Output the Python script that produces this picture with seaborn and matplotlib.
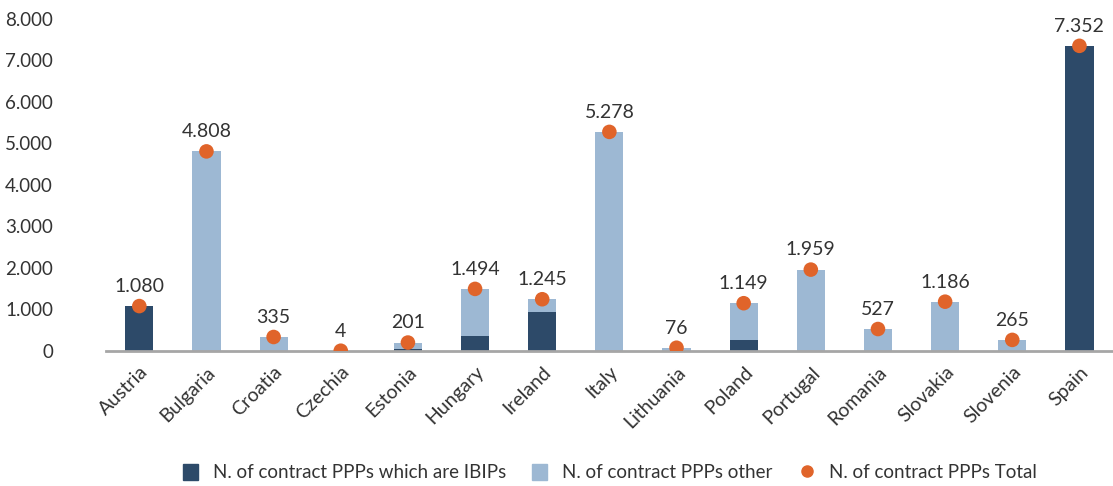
import matplotlib
matplotlib.use("Agg")
import matplotlib.pyplot as plt
import seaborn as sns
import pandas as pd
from matplotlib.patches import Patch
from matplotlib.lines import Line2D

countries = ["Austria", "Bulgaria", "Croatia", "Czechia", "Estonia", "Hungary", "Ireland",
             "Italy", "Lithuania", "Poland", "Portugal", "Romania", "Slovakia", "Slovenia", "Spain"]
ibips = [1080, 0, 0, 0, 40, 370, 930, 0, 0, 270, 0, 0, 0, 0, 7352]
totals = [1080, 4808, 335, 4, 201, 1494, 1245, 5278, 76, 1149, 1959, 527, 1186, 265, 7352]
other = [t - i for t, i in zip(totals, ibips)]

dark = "#2d4a69"
light = "#9db8d3"
orange = "#e0642a"

df = pd.DataFrame({"country": countries, "ibips": ibips, "other": other, "total": totals})

sns.set_style("white")
plt.rcParams["font.family"] = ["Lato", "DejaVu Sans"]

fig = plt.figure(figsize=(11.13, 4.86), dpi=100)
ax = fig.add_axes([0.095, 0.278, 0.905, 0.683])

# light bar = full total, dark bar drawn over it = IBIP part
sns.barplot(data=df, x="country", y="total", color=light, width=0.42, saturation=1,
            linewidth=0, ax=ax)
sns.barplot(data=df, x="country", y="ibips", color=dark, width=0.42, saturation=1,
            linewidth=0, ax=ax)
sns.scatterplot(data=df, x="country", y="total", color=orange, s=110, edgecolor="none",
                zorder=5, ax=ax)

for i, t in enumerate(totals):
    ax.annotate(f"{t:,}".replace(",", "."), (i, t), xytext=(0, 8), textcoords="offset points",
                ha="center", va="bottom", fontsize=14, color="#333333")

ax.set_ylim(0, 8000)
ax.set_xlim(-0.5, len(countries) - 0.5)
ax.set_yticks(range(0, 8001, 1000))
ax.set_yticklabels([f"{v:,}".replace(",", ".") for v in range(0, 8001, 1000)],
                   fontsize=13.5, color="#333333")
ax.tick_params(axis="y", length=0, pad=38)
ax.tick_params(axis="x", length=0, pad=9)
plt.setp(ax.get_xticklabels(), rotation=45, ha="right", rotation_mode="anchor",
         fontsize=14, color="#333333")
ax.set_xlabel("")
ax.set_ylabel("")
for side in ["top", "right", "left"]:
    ax.spines[side].set_visible(False)
ax.spines["bottom"].set_color("#a6a6a6")
ax.spines["bottom"].set_linewidth(2)

handles = [Patch(color=dark, label="N. of contract PPPs which are IBIPs"),
           Patch(color=light, label="N. of contract PPPs other"),
           Line2D([], [], marker="o", color=orange, linestyle="none", markersize=8,
                  label="N. of contract PPPs Total")]
fig.legend(handles=handles, loc="lower center", bbox_to_anchor=(0.548, -0.025), ncol=3,
           frameon=False, fontsize=13.5, handlelength=0.8, handleheight=0.9,
           columnspacing=1.4, labelcolor="#333333")

fig.savefig("out.png", dpi=100)
